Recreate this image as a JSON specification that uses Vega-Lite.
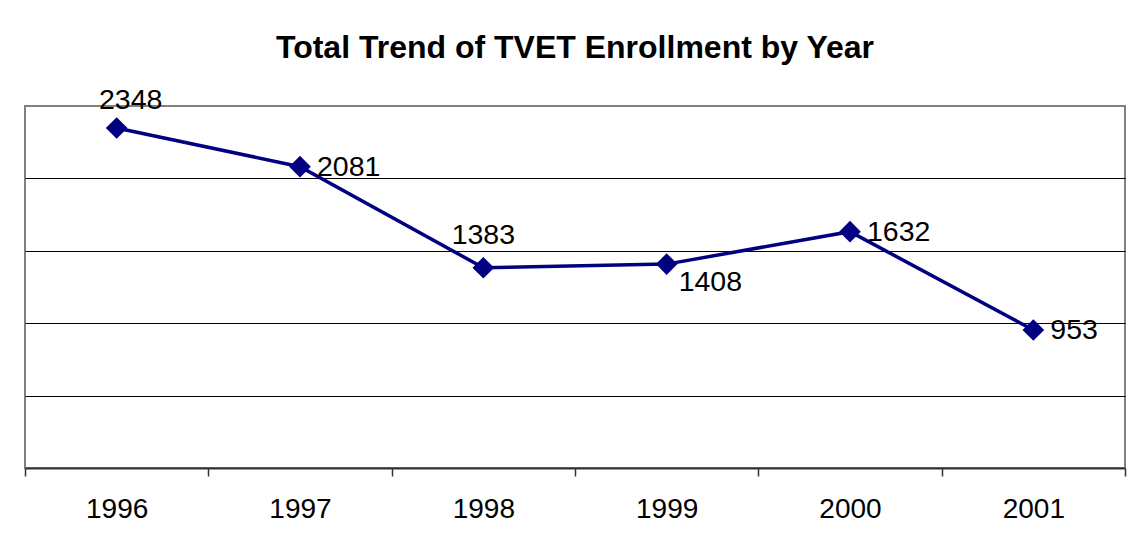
{
  "$schema": "https://vega.github.io/schema/vega-lite/v6.json",
  "autosize": {"type": "none"},
  "padding": {"left": 25, "top": 106, "right": 15, "bottom": 83},
  "width": 1100,
  "height": 362,
  "background": "white",
  "title": {
    "text": "Total Trend of TVET Enrollment by Year",
    "font": "Liberation Sans",
    "fontSize": 32,
    "fontWeight": "bold",
    "color": "black",
    "anchor": "middle",
    "offset": 21
  },
  "config": {
    "view": {"stroke": "#808080", "strokeWidth": 2},
    "font": "Liberation Sans"
  },
  "data": {
    "values": [
      {"year": "1996", "enrollment": 2348},
      {"year": "1997", "enrollment": 2081},
      {"year": "1998", "enrollment": 1383},
      {"year": "1999", "enrollment": 1408},
      {"year": "2000", "enrollment": 1632},
      {"year": "2001", "enrollment": 953}
    ]
  },
  "encoding": {
    "x": {
      "field": "year",
      "type": "ordinal",
      "scale": {"paddingInner": 0, "paddingOuter": 0},
      "axis": {
        "title": null,
        "labelAngle": 0,
        "labelFont": "Liberation Sans",
        "labelFontSize": 28,
        "labelColor": "black",
        "labelPadding": 19,
        "tickBand": "extent",
        "ticks": true,
        "tickColor": "#333333",
        "tickSize": 8,
        "tickWidth": 1.5,
        "domainColor": "#333333",
        "domainWidth": 2,
        "grid": false
      }
    },
    "y": {
      "field": "enrollment",
      "type": "quantitative",
      "scale": {"domain": [0, 2500], "nice": false, "zero": true},
      "axis": {
        "title": null,
        "labels": false,
        "ticks": false,
        "domain": false,
        "grid": true,
        "gridColor": "black",
        "gridWidth": 1,
        "gridOpacity": 1,
        "values": [500, 1000, 1500, 2000]
      }
    }
  },
  "layer": [
    {
      "mark": {"type": "line", "color": "#000080", "strokeWidth": 3.5, "clip": false}
    },
    {
      "mark": {"type": "point", "shape": "diamond", "filled": true, "color": "#000080", "size": 470, "opacity": 1}
    },
    {
      "transform": [{"filter": "datum.year == '1996'"}],
      "mark": {"type": "text", "fontSize": 28.5, "color": "black", "align": "center", "baseline": "middle", "dx": 14, "dy": -28},
      "encoding": {"text": {"field": "enrollment", "type": "quantitative"}}
    },
    {
      "transform": [{"filter": "datum.year == '1997' || datum.year == '2000' || datum.year == '2001'"}],
      "mark": {"type": "text", "fontSize": 28.5, "color": "black", "align": "left", "baseline": "middle", "dx": 17, "dy": 0},
      "encoding": {"text": {"field": "enrollment", "type": "quantitative"}}
    },
    {
      "transform": [{"filter": "datum.year == '1998'"}],
      "mark": {"type": "text", "fontSize": 28.5, "color": "black", "align": "center", "baseline": "middle", "dx": 0, "dy": -33},
      "encoding": {"text": {"field": "enrollment", "type": "quantitative"}}
    },
    {
      "transform": [{"filter": "datum.year == '1999'"}],
      "mark": {"type": "text", "fontSize": 28.5, "color": "black", "align": "left", "baseline": "middle", "dx": 12, "dy": 18},
      "encoding": {"text": {"field": "enrollment", "type": "quantitative"}}
    }
  ]
}
